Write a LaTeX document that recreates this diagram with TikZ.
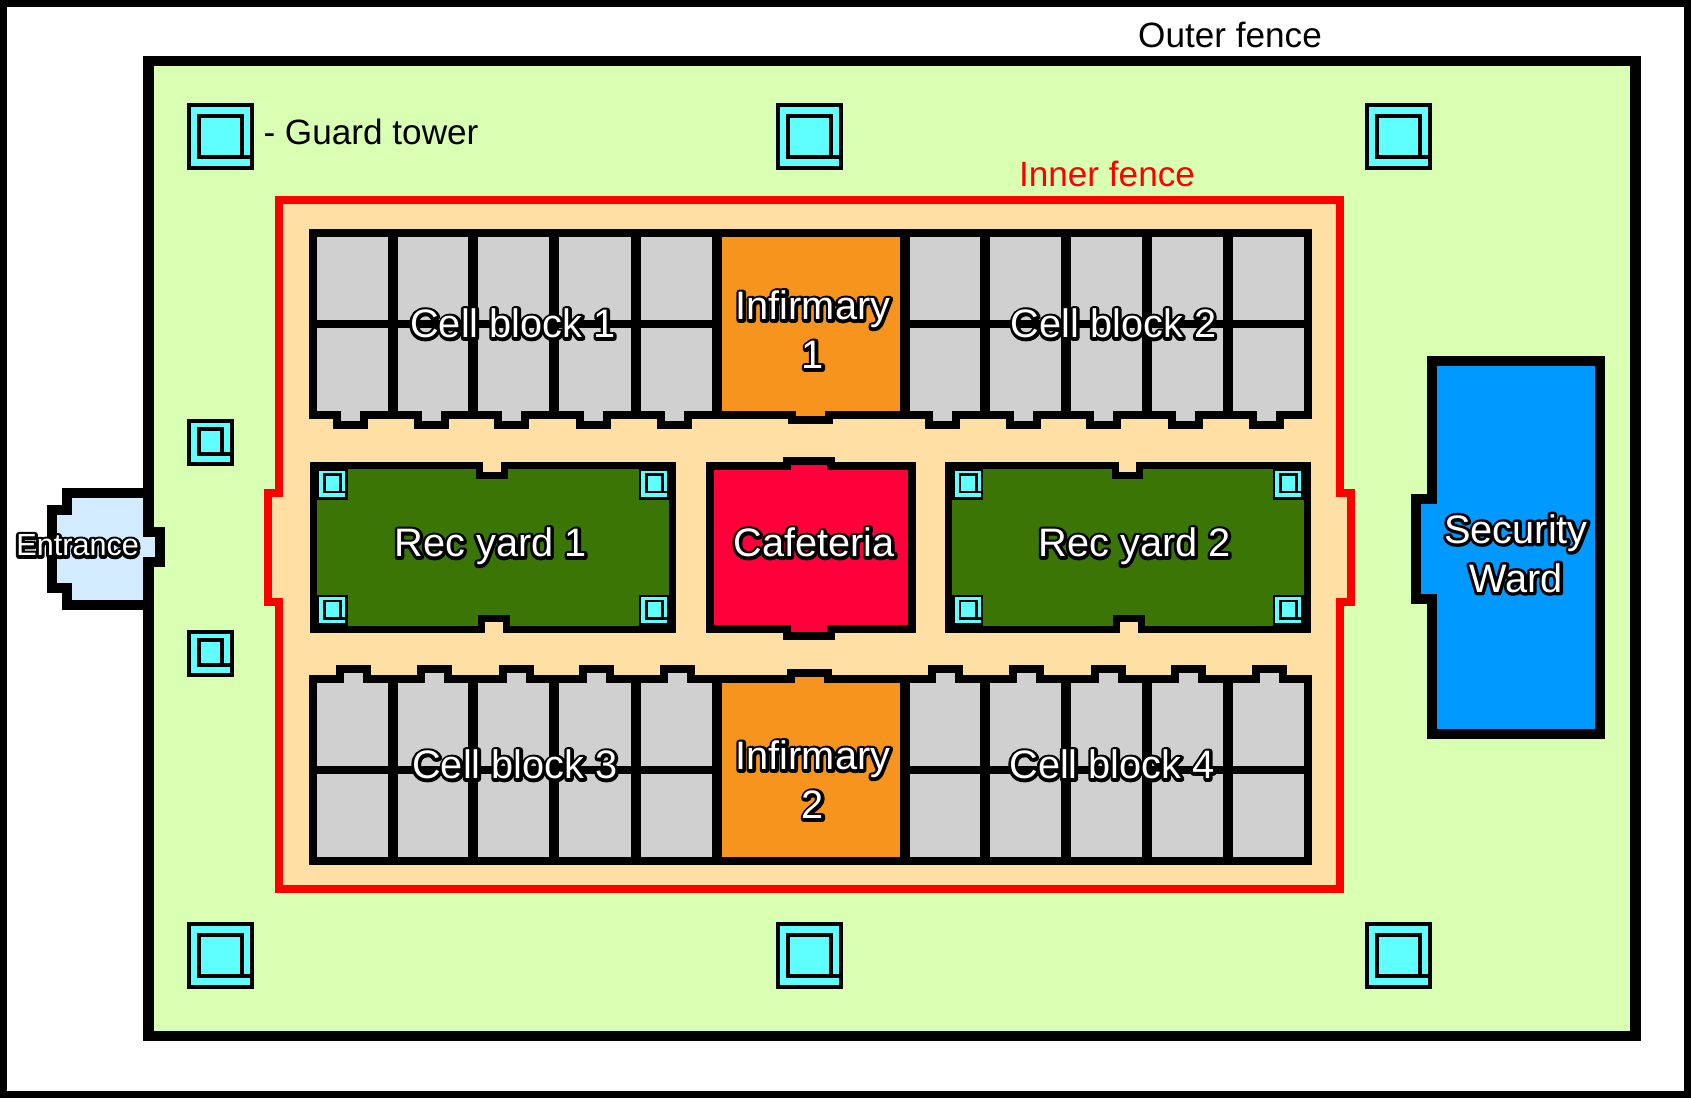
\documentclass[tikz,border=0pt]{standalone}
\usepackage{fontspec}
\usepackage{tikz}
\setmainfont{Liberation Sans}

% white letters with a black rim
\newcommand{\rimtext}[1]{\rlap{\color{black}\special{pdf:literal direct 1 Tr 1.7 w 1 j}#1\special{pdf:literal direct 0 Tr}}#1}

\definecolor{lawn}{RGB}{217,255,179}
\definecolor{yardpeach}{RGB}{255,223,163}
\definecolor{cellgray}{RGB}{208,208,208}
\definecolor{infirmaryorange}{RGB}{247,148,30}
\definecolor{cafered}{RGB}{255,0,58}
\definecolor{recgreen}{RGB}{59,117,6}
\definecolor{towercyan}{RGB}{95,255,255}
\definecolor{wardblue}{RGB}{0,153,255}
\definecolor{entryblue}{RGB}{210,235,255}

\tikzset{
    wall/.style={draw=black, line width=0.08cm, line join=miter},
    fencewall/.style={draw=black, line width=0.105cm, line join=miter},
    plainlabel/.style={inner sep=0pt, anchor=base, font=\fontsize{10}{12}\selectfont},
    roomlabel/.style={inner sep=0pt, anchor=base, text=white, align=center, font=\fontsize{11.3}{13.94}\selectfont},
}

\begin{document}
\begin{tikzpicture}[x=0.01cm, y=-0.01cm]
    \useasboundingbox (0,0) rectangle (1691,1098);

    % Page frame and outer fence
    \draw[line width=0.07cm, fill=white] (3.5,3.5) rectangle (1687.5,1094.5);
    \draw[fencewall, fill=lawn] (148.5,61) rectangle (1635.5,1036);

    % Entrance
    \draw[fencewall, fill=entryblue] (148.5,493) -- (67,493) -- (67,510) -- (52,510) -- (52,588) -- (67,588)
        -- (67,605) -- (148.5,605) -- (148.5,562) -- (160,562) -- (160,532) -- (148.5,532) -- cycle;

    % Security ward
    \draw[fencewall, fill=wardblue] (1432,361) -- (1600,361) -- (1600,734) -- (1432,734) -- (1432,599)
        -- (1416,599) -- (1416,499) -- (1432,499) -- cycle;

    % Inner fence
    \draw[draw=red, line width=0.078cm, fill=yardpeach] (279,200) -- (1340,200) -- (1340,493) -- (1351,493)
        -- (1351,602) -- (1340,602) -- (1340,889) -- (279,889) -- (279,602) -- (268,602) -- (268,493)
        -- (279,493) -- cycle;

    % Large guard towers
    \foreach \tx/\ty in {187/103, 776/103, 1365/103, 187/922, 776/922, 1365/922} {
        \draw[line width=0.04cm, fill=towercyan] (\tx+2,\ty+2) rectangle (\tx+65,\ty+65);
        \draw[line width=0.04cm] (\tx+12,\ty+12.7) rectangle (\tx+55,\ty+54);
        \draw[line width=0.04cm] (\tx+55,\ty+54) -- (\tx+65,\ty+54);
    }
    % Small guard towers
    \foreach \tx/\ty in {187/419, 187/630} {
        \draw[line width=0.04cm, fill=towercyan] (\tx+2,\ty+2) rectangle (\tx+45,\ty+44.7);
        \draw[line width=0.04cm] (\tx+12,\ty+9.7) rectangle (\tx+35,\ty+35);
        \draw[line width=0.04cm] (\tx+35,\ty+35) -- (\tx+45,\ty+35);
    }

    % Cell rows
    \draw[wall, fill=cellgray] (313,233) rectangle (1307.5,415);
    \draw[wall, fill=cellgray] (313,679) rectangle (1307.5,860.7);

    \foreach \c in {350.5, 431.5, 511.5, 593.5, 674.5, 942.5, 1023.5, 1103.5, 1185.5, 1266.5} {
        \draw[wall] (\c-13.5,415) -- (\c-13.5,424.7) -- (\c+13.5,424.7) -- (\c+13.5,415);
        \fill[cellgray] (\c-9.5,410) rectangle (\c+9.5,420.7);
    }
    \foreach \c in {353.7, 434.5, 516.5, 596.5, 677.5, 945.5, 1026.5, 1108.5, 1188.5, 1269.5} {
        \draw[wall] (\c-13.5,679) -- (\c-13.5,669) -- (\c+13.5,669) -- (\c+13.5,679);
        \fill[cellgray] (\c-9.5,673) rectangle (\c+9.5,684);
    }

    % Infirmaries
    \fill[infirmaryorange] (717,237) rectangle (904.5,411);
    \draw[wall] (792,415) -- (792,419.7) -- (829,419.7) -- (829,415);
    \fill[infirmaryorange] (796,410) rectangle (825,415.7);
    \fill[infirmaryorange] (717,683) rectangle (904.5,856.7);
    \draw[wall] (791,679) -- (791,673) -- (828,673) -- (828,679);
    \fill[infirmaryorange] (795,677) rectangle (824,684);

    % Cell walls
    \foreach \wx in {392.5, 473.4, 554, 635.5, 717, 904.5, 984.5, 1065.7, 1146.5, 1227.5} {
        \draw[line width=0.1cm] (\wx,233) -- (\wx,415);
        \draw[line width=0.1cm] (\wx,679) -- (\wx,860.7);
    }
    \draw[wall] (313,324) -- (717,324);
    \draw[wall] (904.5,324) -- (1307.5,324);
    \draw[wall] (313,770) -- (717,770);
    \draw[wall] (904.5,770) -- (1307.5,770);

    % Rec yards
    \draw[line width=0.07cm, fill=recgreen] (313.5,465.3) -- (479.5,465.3) -- (479.5,475.5) -- (504.5,475.5)
        -- (504.5,465.3) -- (672,465.3) -- (672,629.3) -- (506.5,629.3) -- (506.5,619) -- (481.5,619)
        -- (481.5,629.3) -- (313.5,629.3) -- cycle;
    \draw[line width=0.07cm, fill=recgreen] (948.5,465.3) -- (1115.3,465.3) -- (1115.3,475.5) -- (1139,475.5)
        -- (1139,465.3) -- (1307.5,465.3) -- (1307.5,629.3) -- (1141.3,629.3) -- (1141.3,619) -- (1116.5,619)
        -- (1116.5,629.3) -- (948.5,629.3) -- cycle;

    % Tiny yard towers
    \foreach \tx/\ty in {317/468.7, 317/595, 639/468.7, 639/595, 952.5/468.7, 952.5/595, 1273/468.7, 1273/595} {
        \draw[line width=0.025cm, fill=towercyan] (\tx+1.2,\ty+1.2) rectangle (\tx+29.5,\ty+29.6);
        \draw[line width=0.028cm] (\tx+7.4,\ty+6) rectangle (\tx+23.6,\ty+23.3);
        \draw[line width=0.028cm] (\tx+23.6,\ty+23.3) -- (\tx+29.5,\ty+23.3);
    }

    % Cafeteria
    \draw[wall, fill=cafered] (710,466) -- (787,466) -- (787,461) -- (831,461) -- (831,466) -- (912,466)
        -- (912,629) -- (831,629) -- (831,636) -- (787,636) -- (787,629) -- (710,629) -- cycle;

    % Plain labels
    \node[plainlabel] (outer) at (1230,48) {Outer fence};
    \node[plainlabel] (guard) at (371,145) {- Guard tower};
    \node[plainlabel, text=red] (inner) at (1107,187) {Inner fence};

    % Room labels
    \node[roomlabel] (cell1) at (513,338) {\rimtext{Cell block 1}};
    \node[roomlabel] (cell2) at (1113.5,338) {\rimtext{Cell block 2}};
    \node[roomlabel] (cell3) at (515,779) {\rimtext{Cell block 3}};
    \node[roomlabel] (cell4) at (1112,779) {\rimtext{Cell block 4}};
    \node[roomlabel] (inf1) at (813,369) {\rimtext{Infirmary}\\\rimtext{1}};
    \node[roomlabel] (inf2) at (813,819) {\rimtext{Infirmary}\\\rimtext{2}};
    \node[roomlabel] (rec1) at (490.6,557) {\rimtext{Rec yard 1}};
    \node[roomlabel] (rec2) at (1134.6,557) {\rimtext{Rec yard 2}};
    \node[roomlabel] (cafe) at (814,557) {\rimtext{Cafeteria}};
    \node[roomlabel, font=\fontsize{8.7}{10}\selectfont] (entrance) at (77.7,556) {\rimtext{Entrance}};
    \node[roomlabel] (ward) at (1516,592.5) {\rimtext{Security}\\\rimtext{Ward}};
\end{tikzpicture}
\end{document}
